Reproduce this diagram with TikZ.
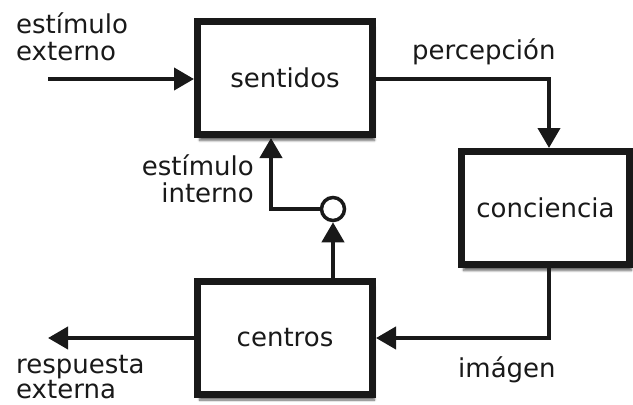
\documentclass[tikz,border=0pt]{standalone}
\usepackage{fontspec}
\setmainfont{DejaVu Sans}
\usetikzlibrary{arrows.meta,shadows.blur}
\begin{document}
\begin{tikzpicture}[x=1pt,y=-1pt,
  lbl/.style={font=\fontsize{26}{27}\selectfont, text=black!90, inner sep=0pt},
  blk/.style={draw=black!90, line width=7pt, fill=white, minimum width=175pt, minimum height=113pt,
     font=\fontsize{26}{27}\selectfont, text=black!90,
     blur shadow={shadow xshift=2pt, shadow yshift=-6pt, shadow blur steps=6, shadow opacity=60}},
  conn/.style={line width=4pt, draw=black!90},
  tip/.style={-{Triangle[length=20pt,width=22pt]}}]
\useasboundingbox (0,0) rectangle (633,405);
\node[blk] (sent) at (285,78) {sentidos};
\node[blk, minimum width=168pt] (conc) at (545.5,208) {conciencia};
\node[blk] (cent) at (285,337.5) {centros};
\node[circle, draw=black!90, line width=3.5pt, minimum size=23pt, inner sep=0pt, fill=white] (sum) at (333,209) {};
\coordinate (ein) at (48,79);
\coordinate (rout) at (48,338);
\coordinate (pc) at (549,79);
\coordinate (ic) at (549,338);
\coordinate (ik) at (271,209);
% connectors
\draw[conn, tip] (ein) -- (sent.west |- ein);
\draw[conn, tip] (sent.east |- pc) -- (pc) -- (pc |- conc.north);
\draw[conn, tip] (ic |- conc.south) -- (ic) -- (cent.east |- ic);
\draw[conn, tip] (cent.west |- rout) -- (rout);
\draw[conn, tip] (cent.north -| sum) -- (sum.south);
\draw[conn, tip] (sum.west) -- (ik) -- (ik |- sent.south);
% labels
\node[lbl, align=left, anchor=base west] (l1) at (16,60) {estímulo\\externo};
\node[lbl, anchor=base west] (l2) at (412,59) {percepción};
\node[lbl, align=right, anchor=base east] (l3) at (254,202) {estímulo\\interno};
\node[lbl, align=left, anchor=base west] (l4) at (16,398) {respuesta\\[-2pt]externa};
\node[lbl, anchor=base west] (l5) at (458,377) {imágen};
\end{tikzpicture}
\end{document}
